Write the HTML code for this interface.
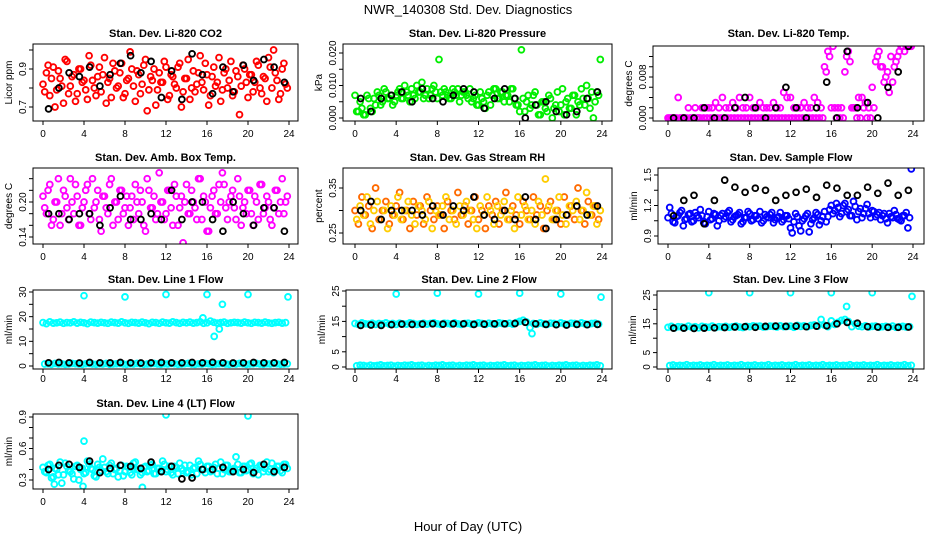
<!DOCTYPE html>
<html><head><meta charset="utf-8"><style>
html,body{margin:0;padding:0;background:#fff}
svg{display:block;font-family:"Liberation Sans",sans-serif}
</style></head><body>
<svg id="chart" width="936" height="540" viewBox="0 0 936 540" xmlns="http://www.w3.org/2000/svg">
<text x="468" y="14" text-anchor="middle" font-size="13">NWR_140308  Std. Dev. Diagnostics</text>
<text x="468" y="531" text-anchor="middle" font-size="13">Hour of Day (UTC)</text>
</svg>
<script>
const hourTicks=[0,4,8,12,16,20,24];
// CO2
const co2A=[0.82,0.88,0.76,0.91,0.79,0.85,0.72,0.94,0.81,0.87,0.77,0.9,0.84,0.74,0.92,0.8,0.86,0.78,0.96,0.83,0.75,0.89,0.81,0.93,0.77,0.85,0.9,0.73,0.87,0.82,0.95,0.79,0.84,0.71,0.88,0.83,0.91,0.76,0.86,0.8,0.93,0.78,0.85,0.74,0.89,0.82,0.97,0.79,0.87,0.76,0.91,0.83,0.73,0.88,0.8,0.94,0.78,0.86,0.81,0.9,0.75,0.87,0.83,0.92,0.77,0.85,0.96,0.8,0.88,0.74,0.9,0.82];
const co2B=[0.78,0.92,0.85,0.7,0.89,0.81,0.95,0.77,0.86,0.73,0.9,0.83,0.79,0.97,0.84,0.76,0.91,0.87,0.72,0.85,0.93,0.8,0.88,0.75,0.84,0.99,0.81,0.89,0.77,0.92,0.68,0.86,0.9,0.79,0.83,0.94,0.74,0.87,0.82,0.91,0.7,0.85,0.95,0.8,0.78,0.88,0.83,0.93,0.71,0.86,0.81,0.96,0.79,0.9,0.84,0.76,0.89,0.66,0.92,0.83,0.87,0.78,0.94,0.8,0.86,0.73,0.91,1.0,0.84,0.77,0.93,0.8];
const co2K=[0.69,0.8,0.88,0.86,0.91,0.81,0.87,0.93,0.97,0.88,0.94,0.75,0.89,0.74,0.98,0.87,0.77,0.91,0.78,0.92,0.84,0.95,0.91,0.83];
// Pressure
const presA=[0.007,0.002,0.003,0.001,0.006,0.002,0.004,0.007,0.005,0.008,0.006,0.004,0.007,0.009,0.006,0.008,0.005,0.007,0.01,0.008,0.006,0.009,0.007,0.01,0.006,0.008,0.009,0.007,0.006,0.008,0.009,0.007,0.008,0.006,0.005,0.007,0.004,0.006,0.003,0.008,0.007,0.009,0.006,0.008,0.007,0.005,0.009,0.004,0.002,0.006,0.005,0.003,0.007,0.004,0.001,0.005,0.002,0.006,0.003,0.008,0.004,0.001,0.006,0.003,0.007,0.005,0.009,0.004,0.006,0.008,0.005,0.007];
const presB=[0.002,0.005,0.001,0.007,0.003,0.006,0.008,0.004,0.009,0.006,0.007,0.005,0.008,0.006,0.01,0.007,0.009,0.006,0.008,0.011,0.007,0.006,0.009,0.008,0.018,0.007,0.008,0.006,0.009,0.007,0.005,0.008,0.007,0.009,0.006,0.004,0.008,0.005,0.007,0.004,0.009,0.006,0.008,0.005,0.007,0.009,0.006,0.004,0.021,0.002,0.007,0.004,0.008,0.001,0.005,0.003,0.007,0.0,0.004,0.002,0.009,0.005,0.003,0.007,0.001,0.004,0.006,0.01,0.003,0.0,0.008,0.018];
const presK=[0.006,0.002,0.006,0.007,0.008,0.005,0.009,0.006,0.005,0.007,0.009,0.008,0.003,0.006,0.009,0.006,0.0,0.004,0.005,0.002,0.001,0.002,0.006,0.008];
// Li-820 temp
const tempA=[0,0,0,0.004,0,0,0.002,0,0.002,0,0.002,0.002,0.002,0.002,0.003,0.002,0.004,0.002,0.002,0.003,0.002,0.004,0.002,0.002,0.004,0.002,0.002,0.003,0.002,0.002,0.002,0.003,0.002,0.002,0.005,0.004,0.004,0.002,0.002,0.002,0.003,0.002,0.002,0.004,0.003,0.002,0.01,0.013,0.002,0.002,0.002,0.002,0.009,0.013,0.002,0.002,0.004,0.004,0.003,0.002,0.006,0.011,0.013,0.01,0.008,0.005,0.007,0.011,0.013,0.014,0.014,0.014];
const tempB=[0,0,0,0,0,0,0,0,0,0,0,0,0,0,0,0,0,0,0,0,0,0,0,0,0,0,0,0,0,0,0,0,0,0,0,0,0,0,0,0,0,0,0,0,0,0,0.009,0.012,0.014,0,0,0,0.012,0.011,0.002,0,0,0.002,0,0,0.002,0.012,0.01,0.007,0.009,0.012,0.01,0.012,0.014,0.013,0.014,0.014];
const tempK=[0,0,0,0.002,0,0,0.002,0.004,0.002,0,0.002,0.006,0.002,0,0.002,0.007,0,0.013,0.002,0.003,0,0.006,0.009,0.014];
// Amb box temp
const boxA=[0.21,0.18,0.23,0.17,0.2,0.16,0.22,0.19,0.24,0.18,0.21,0.16,0.2,0.23,0.17,0.19,0.22,0.15,0.21,0.18,0.24,0.2,0.17,0.22,0.19,0.16,0.21,0.23,0.18,0.2,0.15,0.22,0.19,0.17,0.25,0.2,0.18,0.22,0.16,0.21,0.19,0.13,0.23,0.18,0.2,0.17,0.24,0.21,0.15,0.19,0.22,0.18,0.2,0.23,0.17,0.21,0.19,0.24,0.16,0.2,0.22,0.18,0.21,0.17,0.23,0.19,0.2,0.16,0.22,0.18,0.24,0.2];
const boxB=[0.19,0.22,0.16,0.2,0.24,0.18,0.21,0.17,0.2,0.23,0.16,0.19,0.22,0.18,0.24,0.2,0.17,0.21,0.19,0.23,0.16,0.2,0.22,0.18,0.21,0.19,0.17,0.2,0.22,0.16,0.24,0.19,0.21,0.18,0.2,0.17,0.22,0.19,0.23,0.16,0.21,0.2,0.18,0.22,0.19,0.24,0.17,0.2,0.15,0.21,0.18,0.23,0.25,0.19,0.2,0.22,0.17,0.21,0.19,0.18,0.22,0.16,0.2,0.23,0.18,0.21,0.17,0.19,0.22,0.2,0.18,0.21];
const boxK=[0.18,0.18,0.17,0.18,0.18,0.16,0.19,0.21,0.17,0.17,0.18,0.17,0.22,0.17,0.2,0.2,0.17,0.15,0.2,0.18,0.16,0.19,0.19,0.15];
// RH
const rhA=[0.3,0.27,0.33,0.29,0.31,0.26,0.35,0.28,0.3,0.32,0.27,0.29,0.31,0.34,0.28,0.3,0.26,0.32,0.29,0.31,0.27,0.33,0.3,0.28,0.31,0.29,0.26,0.32,0.3,0.28,0.34,0.29,0.31,0.27,0.3,0.33,0.28,0.3,0.26,0.31,0.29,0.32,0.27,0.3,0.34,0.28,0.31,0.29,0.27,0.32,0.3,0.28,0.33,0.29,0.31,0.26,0.3,0.32,0.28,0.3,0.27,0.33,0.29,0.31,0.28,0.35,0.3,0.27,0.32,0.29,0.31,0.28];
const rhB=[0.28,0.31,0.29,0.33,0.27,0.3,0.32,0.28,0.3,0.26,0.31,0.29,0.33,0.28,0.3,0.32,0.29,0.27,0.31,0.3,0.28,0.32,0.26,0.3,0.29,0.31,0.33,0.28,0.3,0.27,0.31,0.29,0.32,0.3,0.28,0.26,0.31,0.29,0.33,0.3,0.27,0.31,0.29,0.32,0.28,0.3,0.26,0.33,0.29,0.31,0.28,0.3,0.27,0.32,0.29,0.37,0.31,0.28,0.3,0.33,0.29,0.27,0.31,0.3,0.32,0.28,0.3,0.34,0.29,0.31,0.27,0.3];
const rhK=[0.3,0.32,0.28,0.3,0.3,0.3,0.29,0.31,0.29,0.31,0.3,0.33,0.29,0.28,0.3,0.28,0.33,0.28,0.26,0.28,0.29,0.31,0.29,0.31];
// Sample flow
const sfA=[1.08,1.12,1.03,1.1,1.15,1.06,1.11,1.04,1.13,1.08,1.1,1.02,1.14,1.07,1.11,1.05,1.12,1.09,1.15,1.06,1.1,1.13,1.04,1.08,1.12,1.06,1.1,1.14,1.05,1.09,1.11,1.03,1.08,1.13,1.06,1.1,0.98,1.04,1.09,0.95,1.07,1.12,1.02,1.08,1.11,1.05,1.14,1.09,1.2,1.15,1.18,1.12,1.22,1.16,1.1,1.19,1.14,1.08,1.17,1.12,1.15,1.09,1.13,1.1,1.07,1.12,1.08,1.11,1.06,1.1,1.13,1.08];
const sfB=[1.18,1.04,1.09,1.13,1.0,1.07,1.12,1.05,1.1,1.16,1.03,1.09,1.06,1.12,1.0,1.1,1.07,1.13,1.04,1.09,1.11,1.02,1.08,1.14,1.05,1.1,1.07,1.03,1.11,1.08,1.13,1.06,1.09,1.04,1.1,1.07,0.93,1.12,1.0,1.05,1.1,0.94,1.06,1.13,1.01,1.09,1.04,1.16,1.12,1.22,1.09,1.2,1.14,1.1,1.24,1.06,1.17,1.12,1.21,1.08,1.14,1.11,1.06,1.12,1.03,1.09,1.15,1.07,1.05,1.1,0.98,1.56];
const sfK=[1.1,1.25,1.3,1.02,1.25,1.45,1.38,1.33,1.37,1.35,1.25,1.3,1.33,1.36,1.28,1.4,1.37,1.3,1.3,1.38,1.32,1.42,1.3,1.35];
// Line flows
const l1A=[17.6,17.2,17.9,17.4,17.5,17.8,17.3,17.6,17.5,17.9,17.4,17.7,17.5,17.2,17.8,17.6,17.4,17.7,17.5,17.3,17.8,17.6,17.4,17.9,17.5,17.3,17.7,17.6,17.4,17.8,17.5,17.2,17.7,17.6,17.3,17.8,17.5,17.4,17.9,17.6,17.3,17.7,17.5,17.8,17.4,17.6,17.9,17.3,17.5,18.2,17.7,17.4,17.6,17.8,17.3,17.5,17.7,17.6,17.4,17.8,17.5,17.3,17.7,17.6,17.4,17.8,17.5,17.3,17.6,17.7,17.4,17.6];
const l1B=[0.8,0.9,0.7,1.0,0.8,0.9,0.7,0.8,1.0,0.9,0.8,0.7,0.9,1.0,0.8,0.7,0.9,0.8,1.0,0.7,0.8,0.9,1.0,0.8,0.7,0.9,0.8,1.0,0.9,0.7,0.8,0.9,1.0,0.8,0.7,0.9,0.8,1.0,0.9,0.7,0.8,0.9,1.0,0.8,0.7,0.9,0.8,1.0,0.9,0.7,0.8,0.9,1.0,0.8,0.7,0.9,0.8,1.0,0.9,0.7,0.8,0.9,1.0,0.8,0.7,0.9,0.8,1.0,0.9,0.7,0.8,0.9];
const l1K=[1.3,1.4,1.3,1.2,1.4,1.3,1.3,1.4,1.3,1.2,1.3,1.4,1.3,1.3,1.4,1.3,1.5,1.3,1.2,1.3,1.4,1.3,1.3,1.4];
const l1OutH=[4,8,12,16,20,23.9,17.5,16.7,17.2,15.6];
const l1OutV=[28.5,28,29,29,29,28,25,12,15,19.5];
const l2A=[14.3,14.0,14.5,14.2,14.1,14.4,14.0,14.3,14.2,14.5,14.1,14.3,14.0,14.4,14.2,14.1,14.5,14.3,14.0,14.2,14.4,14.1,14.3,14.5,14.2,14.0,14.4,14.3,14.1,14.5,14.2,14.0,14.3,14.4,14.1,14.2,14.5,14.3,14.0,14.4,14.2,14.1,14.5,14.3,14.2,14.4,14.1,14.6,15.0,15.4,14.8,13.0,14.3,14.1,14.5,14.2,14.0,14.4,14.3,14.1,14.5,14.2,14.0,14.4,14.3,14.1,14.5,14.2,14.0,14.3,14.4,14.1];
const l2B=[0.4,0.6,0.5,0.3,0.6,0.4,0.5,0.7,0.4,0.5,0.6,0.3,0.5,0.4,0.6,0.5,0.7,0.4,0.5,0.6,0.3,0.5,0.4,0.6,0.5,0.7,0.4,0.5,0.6,0.3,0.5,0.4,0.6,0.5,0.7,0.4,0.5,0.6,0.3,0.5,0.4,0.6,0.5,0.7,0.4,0.5,0.6,0.3,0.5,0.4,0.6,0.5,0.7,0.4,0.5,0.6,0.3,0.5,0.4,0.6,0.5,0.7,0.4,0.5,0.6,0.3,0.5,0.4,0.6,0.5,0.7,0.4];
const l2K=[13.7,13.8,13.7,13.9,14.1,14.0,14.1,14.2,14.1,14.2,14.2,14.0,14.1,14.2,14.2,14.3,14.7,14.2,14.0,13.9,13.8,14.0,13.9,14.0];
const l2OutH=[4,8,12,16,20,23.9,17.2];
const l2OutV=[24,24.3,24,24.3,24,23,11];
const l3A=[13.8,14.1,13.6,14.0,13.9,13.7,14.2,13.8,14.0,13.6,14.1,13.9,13.8,14.2,13.7,14.0,13.9,14.1,13.8,14.0,14.2,13.9,13.7,14.1,14.0,14.3,14.1,14.2,13.9,14.0,14.2,14.1,13.9,14.3,14.0,14.1,14.2,13.8,14.4,14.1,14.3,14.0,14.4,14.6,14.2,16.5,14.5,14.0,16.0,14.8,15.5,16.2,16.5,15.8,14.0,15.0,14.2,14.0,14.3,13.9,14.1,14.2,13.8,14.0,14.1,13.9,14.2,13.8,14.0,14.1,13.9,14.0];
const l3B=[0.5,0.7,0.4,0.6,0.5,0.8,0.4,0.6,0.5,0.7,0.4,0.6,0.5,0.8,0.4,0.6,0.5,0.7,0.4,0.6,0.5,0.8,0.4,0.6,0.5,0.7,0.4,0.6,0.5,0.8,0.4,0.6,0.5,0.7,0.4,0.6,0.5,0.8,0.4,0.6,0.5,0.7,0.4,0.6,0.5,0.8,0.4,0.6,0.5,0.7,0.4,0.6,0.5,0.8,0.4,0.6,0.5,0.7,0.4,0.6,0.5,0.8,0.4,0.6,0.5,0.7,0.4,0.6,0.5,0.8,0.4,0.6];
const l3K=[13.5,13.5,13.4,13.5,13.6,13.7,13.9,14.0,13.8,14.1,14.2,14.1,14.2,14.0,14.2,14.3,15.0,15.5,15.2,14.0,13.9,13.8,13.8,13.9];
const l3OutH=[4,8,12,16,20,23.9,17.5];
const l3OutV=[25.8,25.8,25.8,25.8,25.8,24.5,21];
const l4A=[0.42,0.37,0.45,0.33,0.4,0.47,0.35,0.43,0.38,0.31,0.44,0.4,0.36,0.48,0.41,0.34,0.45,0.39,0.42,0.36,0.46,0.4,0.33,0.44,0.38,0.42,0.35,0.47,0.4,0.37,0.43,0.39,0.45,0.36,0.41,0.48,0.38,0.43,0.35,0.42,0.46,0.39,0.37,0.44,0.41,0.36,0.45,0.4,0.43,0.38,0.42,0.36,0.47,0.4,0.44,0.38,0.41,0.45,0.37,0.43,0.4,0.46,0.39,0.35,0.44,0.41,0.38,0.46,0.4,0.43,0.37,0.45];
const l4B=[0.38,0.44,0.32,0.41,0.35,0.27,0.46,0.39,0.36,0.43,0.3,0.41,0.37,0.45,0.4,0.33,0.42,0.5,0.38,0.44,0.36,0.41,0.39,0.34,0.43,0.37,0.46,0.4,0.35,0.42,0.38,0.44,0.36,0.41,0.39,0.45,0.4,0.37,0.43,0.36,0.41,0.44,0.38,0.35,0.42,0.48,0.4,0.37,0.43,0.39,0.45,0.41,0.36,0.44,0.38,0.4,0.52,0.37,0.43,0.39,0.45,0.36,0.41,0.44,0.38,0.47,0.4,0.37,0.43,0.39,0.45,0.41];
const l4K=[0.4,0.44,0.45,0.42,0.48,0.37,0.41,0.44,0.43,0.41,0.47,0.38,0.43,0.31,0.32,0.4,0.4,0.42,0.38,0.4,0.37,0.45,0.38,0.42];
const l4OutH=[4,12,20,1.1,3.9,9.7];
const l4OutV=[0.67,0.92,0.91,0.26,0.24,0.23];

const panels=[
 {name:'co2',title:'Stan. Dev. Li-820 CO2',yl:'Licor ppm',box:[33,44,298,121],xp:[43,289],ya:[0.7,107,0.9,69],ticks:[0.7,0.8,0.9,1.0],labels:[0.7,0.9],dec:1,color:'#ff0000',a:co2A,b:co2B,k:co2K,lbl:137,ty:37},
 {name:'pressure',title:'Stan. Dev. Li-820 Pressure',yl:'kPa',box:[343,44,612,121],xp:[355,602],ya:[0,118,0.02,53],ticks:[0,0.005,0.01,0.015,0.02],labels:[0,0.01,0.02],dec:3,color:'#00ee00',a:presA,b:presB,k:presK,lbl:137,ty:37},
 {name:'li820-temp',title:'Stan. Dev. Li-820 Temp.',yl:'degrees C',box:[653,46,924,121],xp:[668,913],ya:[0,118,0.008,77],ticks:[0,0.002,0.004,0.006,0.008,0.01,0.012],labels:[0,0.008],dec:3,color:'#ff00ff',a:tempA,b:tempB,k:tempK,lbl:137,ty:37},
 {name:'box-temp',title:'Stan. Dev. Amb. Box Temp.',yl:'degrees C',box:[33,168,298,244],xp:[43,289],ya:[0.14,237,0.2,202],ticks:[0.14,0.16,0.18,0.2,0.22,0.24],labels:[0.14,0.2],dec:2,color:'#ff00ff',a:boxA,b:boxB,k:boxK,lbl:260,ty:161},
 {name:'rh',title:'Stan. Dev. Gas Stream RH',yl:'percent',box:[343,168,612,244],xp:[355,602],ya:[0.25,233,0.35,188],ticks:[0.25,0.3,0.35],labels:[0.25,0.35],dec:2,color:'#ff6a00',color2:'#ffcc00',a:rhA,b:rhB,k:rhK,lbl:260,ty:161},
 {name:'sample-flow',title:'Stan. Dev. Sample Flow',yl:'ml/min',box:[658,168,924,244],xp:[668,913],ya:[0.9,236,1.5,175],ticks:[0.9,1.05,1.2,1.35,1.5],labels:[0.9,1.2,1.5],dec:1,color:'#0000ff',a:sfA,b:sfB,k:sfK,lbl:260,ty:161},
 {name:'line1-flow',title:'Stan. Dev. Line 1 Flow',yl:'ml/min',box:[33,290,298,369],xp:[43,289],ya:[0,366,30,292],ticks:[0,5,10,15,20,25,30],labels:[0,10,20,30],dec:0,color:'#00ffff',a:l1A,b:l1B,k:l1K,oh:l1OutH,ov:l1OutV,lbl:382,ty:283},
 {name:'line2-flow',title:'Stan. Dev. Line 2 Flow',yl:'ml/min',box:[346,290,612,369],xp:[355,602],ya:[0,367,25,291],ticks:[0,5,10,15,20,25],labels:[0,5,15,25],dec:0,color:'#00ffff',a:l2A,b:l2B,k:l2K,oh:l2OutH,ov:l2OutV,lbl:382,ty:283},
 {name:'line3-flow',title:'Stan. Dev. Line 3 Flow',yl:'ml/min',box:[657,291,924,369],xp:[668,913],ya:[0,367,25,295],ticks:[0,5,10,15,20,25],labels:[0,5,15,25],dec:0,color:'#00ffff',a:l3A,b:l3B,k:l3K,oh:l3OutH,ov:l3OutV,lbl:382,ty:283},
 {name:'line4-flow',title:'Stan. Dev. Line 4 (LT) Flow',yl:'ml/min',box:[33,414,298,489],xp:[43,289],ya:[0.3,480,0.9,417],ticks:[0.3,0.4,0.5,0.6,0.7,0.8,0.9],labels:[0.3,0.6,0.9],dec:1,color:'#00ffff',a:l4A,b:l4B,k:l4K,oh:l4OutH,ov:l4OutV,lbl:505,ty:407}
];
const NS='http://www.w3.org/2000/svg';
const svg=document.getElementById('chart');
function mk(tag,attrs,parent){const e=document.createElementNS(NS,tag);for(const k in attrs)e.setAttribute(k,attrs[k]);(parent||svg).appendChild(e);return e;}
function circ(g,x,y,col){const c=mk('circle',{cx:x.toFixed(1),cy:y.toFixed(1),r:2.9,fill:'none',stroke:col,'stroke-width':1.9},g);

}
panels.forEach(p=>{
 const g=mk('g',{});
 
 
 const [L,T,R,B]=p.box;
 const xs=h=>p.xp[0]+(p.xp[1]-p.xp[0])*h/24;
 const ys=v=>p.ya[1]+(p.ya[3]-p.ya[1])*(v-p.ya[0])/(p.ya[2]-p.ya[0]);
 const clipId='clip-'+p.name;
 const cp=mk('clipPath',{id:clipId},g);mk('rect',{x:L,y:T,width:R-L,height:B-T},cp);
 const pts=mk('g',{'clip-path':'url(#'+clipId+')'},g);
 
 
 p.a.forEach((v,i)=>circ(pts,xs(i/3),ys(v),p.color));
 p.b.forEach((v,i)=>circ(pts,xs(i/3+1/6),ys(v),p.color2||p.color));
 if(p.oh)p.oh.forEach((h,i)=>circ(pts,xs(h),ys(p.ov[i]),p.color));
 p.k.forEach((v,i)=>circ(pts,xs(i+0.55),ys(v),'#000'));
 const box=mk('rect',{x:L,y:T,width:R-L,height:B-T,fill:'none',stroke:'#000','stroke-width':1},g);
 
 
 const t=mk('text',{x:(L+R)/2,y:p.ty,'text-anchor':'middle','font-size':11,'font-weight':'bold'},g);
 t.textContent=p.title;
 
 
 hourTicks.forEach(h=>{
  mk('line',{x1:xs(h),x2:xs(h),y1:B,y2:B+4,stroke:'#000'},g);
  const tl=mk('text',{x:xs(h),y:p.lbl,'text-anchor':'middle','font-size':10},g);
  tl.textContent=h;
  
  
 });
 p.ticks.forEach(v=>{const y=ys(v);mk('line',{x1:L-4,x2:L,y1:y,y2:y,stroke:'#000'},g);});
 p.labels.forEach(v=>{const y=ys(v);
  const tl=mk('text',{x:L-7,y:y,'text-anchor':'middle','font-size':10,transform:`rotate(-90 ${L-7} ${y})`},g);
  tl.textContent=v.toFixed(p.dec);
  
  
 });
 const yx=L-21,yy=(T+B)/2;
 const yt=mk('text',{x:yx,y:yy,'text-anchor':'middle','font-size':10,transform:`rotate(-90 ${yx} ${yy})`},g);
 yt.textContent=p.yl;
 
 
});
</script>
</body></html>
